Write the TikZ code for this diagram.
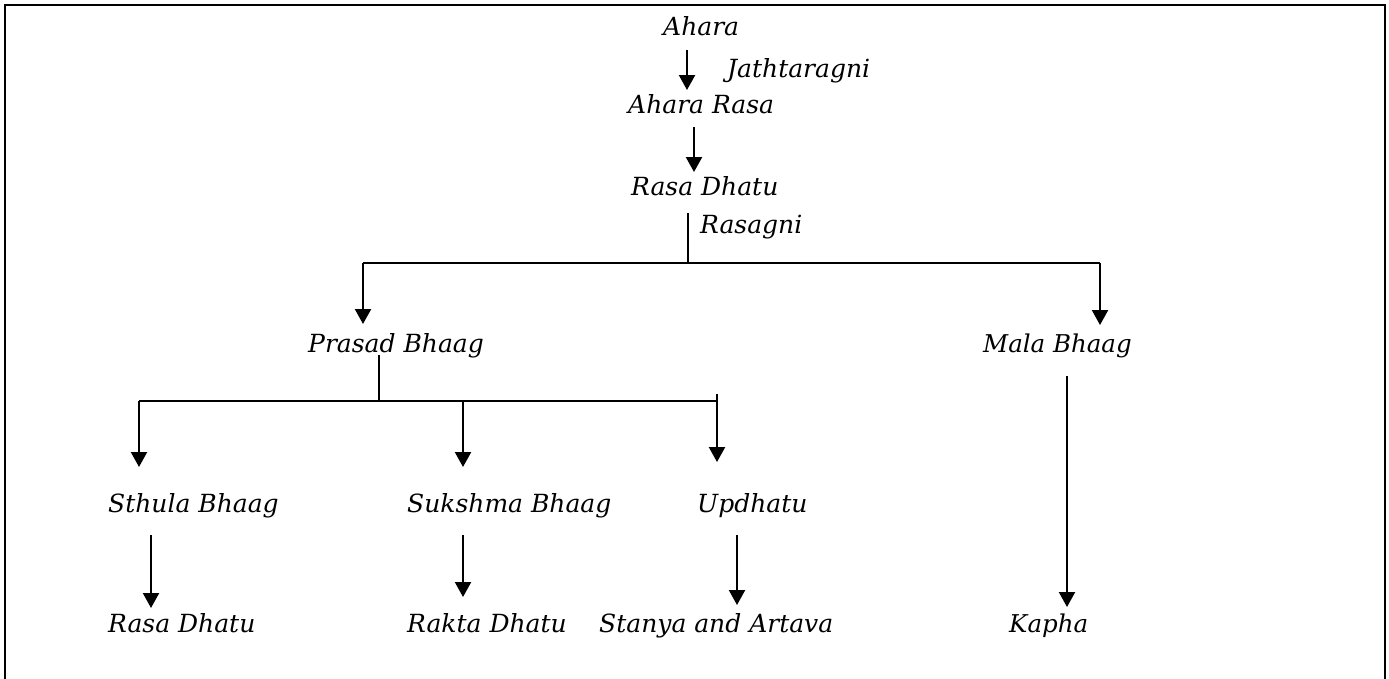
\documentclass[tikz,border=0pt]{standalone}
\usepackage{fontspec}
\setmainfont{DejaVu Serif}
\usetikzlibrary{arrows.meta}
\begin{document}
\begin{tikzpicture}[x=1pt,y=-1pt,
  lbl/.style={anchor=base west,inner sep=0pt,font=\fontsize{25}{29}\selectfont\itshape},
  lblb/.style={anchor=base west,inner sep=0pt,font=\fontsize{24.5}{29}\selectfont\itshape},
  conn/.style={line width=2.2pt},
  arr/.style={conn,-{Triangle[width=16pt,length=15pt]}}]
\useasboundingbox (0,0) rectangle (1389,678);
\draw[line width=2.6pt] (5,680) -- (5,5) -- (1385,5) -- (1385,680);
% labels
\node[lbl] (ahara) at (663,35) {Ahara};
\node[lbl] (jath) at (727,77) {Jathtaragni};
\node[lbl] (ahrasa) at (628,113) {Ahara Rasa};
\node[lbl] (rdhatu) at (631,195) {Rasa Dhatu};
\node[lbl] (rasagni) at (700,233) {Rasagni};
\node[lbl] (prasad) at (308,352) {Prasad Bhaag};
\node[lblb] (mala) at (983,352) {Mala Bhaag};
\node[lbl] (sthula) at (108,512) {Sthula Bhaag};
\node[lbl] (sukshma) at (407,512) {Sukshma Bhaag};
\node[lbl] (updhatu) at (697,512) {Updhatu};
\node[lbl] (rasab) at (108,632) {Rasa Dhatu};
\node[lbl] (rakta) at (407,632) {Rakta Dhatu};
\node[lbl] (stanya) at (599,632) {Stanya and Artava};
\node[lblb] (kapha) at (1009,632) {Kapha};
% coordinates
\coordinate (a1s) at (687,50);   \coordinate (a1e) at (687,90);
\coordinate (a2s) at (694,127);  \coordinate (a2e) at (694,172);
\coordinate (r1s) at (688,213);  \coordinate (r1j) at (688,263);
\coordinate (h1l) at (363,263);  \coordinate (h1r) at (1100,263);
\coordinate (p1e) at (363,324);  \coordinate (m1e) at (1100,325);
\coordinate (p2s) at (379,355);  \coordinate (p2j) at (379,401);
\coordinate (h2l) at (139,401);  \coordinate (h2m) at (463,401);
\coordinate (h2r) at (717,401);  \coordinate (h2t) at (717,394);
\coordinate (s1e) at (139,467);  \coordinate (k1e) at (463,467);
\coordinate (u1e) at (717,462);
\coordinate (s2s) at (151,535);  \coordinate (s2e) at (151,608);
\coordinate (k2s) at (463,535);  \coordinate (k2e) at (463,597);
\coordinate (u2s) at (737,535);  \coordinate (u2e) at (737,605);
\coordinate (m2s) at (1067,376); \coordinate (m2e) at (1067,607);
% connectors
\draw[arr] (a1s) -- (a1e);
\draw[arr] (a2s) -- (a2e);
\draw[conn] (r1s) -- (r1j);
\draw[conn] (h1l) -- (h1r);
\draw[arr] (h1l) -- (p1e);
\draw[arr] (h1r) -- (m1e);
\draw[conn] (p2s) -- (p2j);
\draw[conn] (h2l) -- (h2r);
\draw[arr] (h2l) -- (s1e);
\draw[arr] (h2m) -- (k1e);
\draw[arr] (h2t) -- (u1e);
\draw[arr] (s2s) -- (s2e);
\draw[arr] (k2s) -- (k2e);
\draw[arr] (u2s) -- (u2e);
\draw[arr] (m2s) -- (m2e);
\end{tikzpicture}
\end{document}
